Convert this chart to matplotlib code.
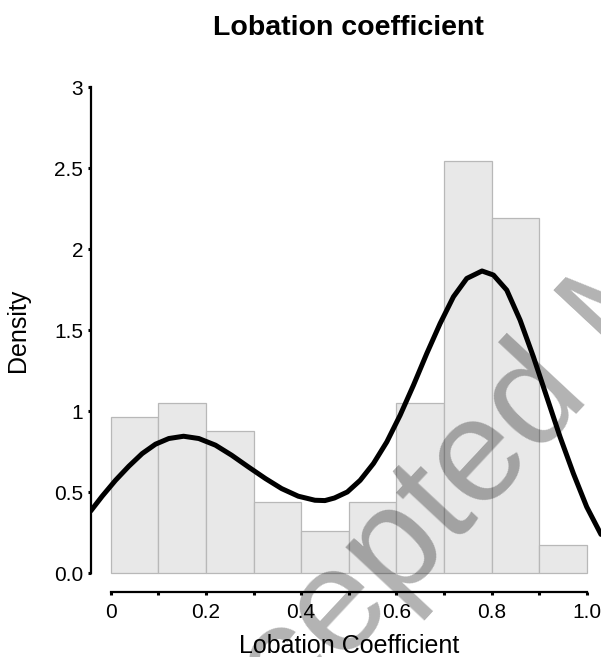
import matplotlib

matplotlib.use("Agg")
import matplotlib.pyplot as plt
import numpy as np

plt.rcParams["font.family"] = ["Liberation Sans", "DejaVu Sans"]

# histogram (bin width 0.1), counts per bin
bin_edges = [0.0, 0.1, 0.2, 0.3, 0.4, 0.5, 0.6, 0.7, 0.8, 0.9, 1.0]
counts = [11, 12, 10, 5, 3, 5, 12, 29, 25, 2]

# density curve
kde_x = [-0.042, -0.018, 0.010, 0.038, 0.066, 0.094, 0.122, 0.153, 0.185,
         0.220, 0.254, 0.289, 0.325, 0.359, 0.394, 0.429, 0.450, 0.470,
         0.497, 0.524, 0.552, 0.580, 0.608, 0.636, 0.664, 0.692, 0.720,
         0.748, 0.780, 0.804, 0.832, 0.860, 0.888, 0.916, 0.944, 0.972,
         1.000, 1.030]
kde_y = [0.385, 0.476, 0.574, 0.661, 0.739, 0.797, 0.832, 0.846, 0.832,
         0.791, 0.729, 0.657, 0.585, 0.523, 0.476, 0.451, 0.449, 0.465,
         0.502, 0.574, 0.678, 0.811, 0.976, 1.161, 1.357, 1.542, 1.707,
         1.820, 1.866, 1.841, 1.748, 1.563, 1.336, 1.089, 0.842, 0.616,
         0.410, 0.240]

x_ticks = [0, 0.1, 0.2, 0.3, 0.4, 0.5, 0.6, 0.7, 0.8, 0.9, 1.0]
x_labels = ["0", "", "0.2", "", "0.4", "", "0.6", "", "0.8", "", "1.0"]
y_ticks = [0, 0.5, 1, 1.5, 2, 2.5, 3]
y_labels = ["0.0", "0.5", "1", "1.5", "2", "2.5", "3"]

counts = np.array(counts)
width = np.diff(bin_edges)
density = counts / (counts.sum() * width)

fig = plt.figure(figsize=(6.01, 6.57), dpi=100)
ax = fig.add_axes([0.151, 0.0985, 0.849, 0.7835])

ax.bar(bin_edges[:-1], density, width=width, align="edge",
       color="#e8e8e8", edgecolor="#b8b8b8", linewidth=0.9, zorder=1)
ax.plot(kde_x, kde_y, color="black", lw=3.6, solid_capstyle="round",
        solid_joinstyle="round", zorder=3)

ax.set_xlim(-0.042, 1.03)
ax.set_ylim(-0.117, 3.06)

for s in ["top", "right"]:
    ax.spines[s].set_visible(False)
ax.spines["left"].set_bounds(0, 3)
ax.spines["bottom"].set_bounds(0, 1)
for s in ["left", "bottom"]:
    ax.spines[s].set_linewidth(1.6)
    ax.spines[s].set_zorder(4)

ax.set_xticks(x_ticks)
ax.set_xticklabels(x_labels)
ax.set_yticks(y_ticks)
ax.set_yticklabels(y_labels)
ax.tick_params(axis="both", length=2.5, width=2.2, labelsize=15, colors="black")
ax.tick_params(axis="x", pad=5)
ax.tick_params(axis="y", pad=3)

ax.set_xlabel("Lobation Coefficient", fontsize=18)
ax.xaxis.set_label_coords((0.5 + 0.042) / 1.072, -0.082)
ax.set_ylabel("Density", fontsize=18)
ax.yaxis.set_label_coords(-0.12, (1.5 + 0.117) / 3.177)

fig.text(0.58, 0.957, "Lobation coefficient", fontsize=20.5, fontweight="bold",
         ha="center", va="center")

# watermark
ax.text(0.288, -0.288, "Accepted Manuscript", transform=fig.transFigure,
        fontsize=106, rotation=47, rotation_mode="anchor", ha="left",
        va="baseline", color="black", alpha=0.3, clip_on=False, zorder=2)

fig.savefig("out.png", dpi=100)
